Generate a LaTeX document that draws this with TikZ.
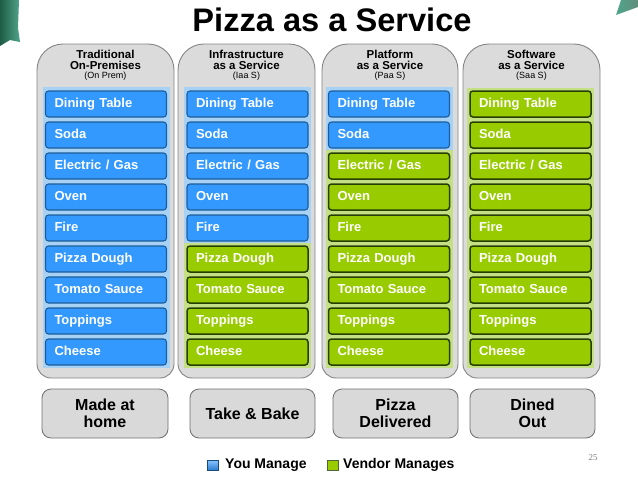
\documentclass[tikz,border=0pt]{standalone}
\usepackage{fontspec}
\setmainfont{Liberation Sans}
\newfontfamily\numfont{Liberation Serif}
\definecolor{colfill}{HTML}{DBDBDB}
\definecolor{colline}{HTML}{858585}
\definecolor{bluefill}{HTML}{3399FF}
\definecolor{blueline}{HTML}{1D5C99}
\definecolor{blueglow}{HTML}{A8D2F5}
\definecolor{greenfill}{HTML}{99CC00}
\definecolor{greenline}{HTML}{263F05}
\definecolor{greenglow}{HTML}{C5DF85}
\definecolor{botfill}{HTML}{D9D9D9}
\definecolor{botline}{HTML}{6F6F6F}
\definecolor{decodark}{HTML}{1F5C45}
\definecolor{decolight}{HTML}{4FA58A}
\begin{document}
\begin{tikzpicture}[x=1pt,y=1pt,
  colbg/.style={fill=colfill,draw=colline,line width=0.9pt},
  item/.style={rounded corners=3pt,minimum width=121pt,minimum height=26pt,
    text width=103pt,inner xsep=9pt,align=left,text=white,
    text height=9.5pt,text depth=2.8pt,
    font=\bfseries\fontsize{13}{15}\selectfont},
  you/.style={item,fill=bluefill,draw=blueline,line width=1.1pt},
  vend/.style={item,fill=greenfill,draw=greenline,line width=1.5pt},
  hdr/.style={font=\bfseries\fontsize{11.5}{13}\selectfont,inner sep=0pt},
  sub/.style={font=\fontsize{9}{10}\selectfont,inner sep=0pt},
  botbox/.style={fill=botfill,draw=botline,line width=0.8pt,rounded corners=9pt,
    minimum height=49pt,align=center,
    font=\bfseries\fontsize{16}{17.5}\selectfont},
  legtext/.style={anchor=west,inner sep=0pt,font=\bfseries\fontsize{14}{16}\selectfont}
]
\useasboundingbox (0,0) rectangle (638,-479);
\fill[white] (0,0) rectangle (638,-479);
% slide decorations
\shade[left color=decodark,right color=decolight] (0,0) -- (19,0) -- (18,-28) -- (20,-42) -- (10,-40) -- (0,-46) -- cycle;
\shade[left color=decolight,right color=decodark!70] (621,0) -- (638,0) -- (638,-7) -- (616,-15) -- cycle;
% title
\node[font=\bfseries\fontsize{32.6}{36}\selectfont,inner sep=0pt] (title) at (332,-20) {Pizza as a Service};
% columns
\foreach \L/\R in {37/174,178/315,322/458,463/600}{
  \path[colbg] (\L,-364) -- (\L,-70) arc[start angle=180,end angle=90,radius=26]
    -- ({\R-26},-44) arc[start angle=90,end angle=0,radius=26]
    -- (\R,-364) arc[start angle=0,end angle=-90,radius=14]
    -- ({\L+14},-378) arc[start angle=270,end angle=180,radius=14] -- cycle;
}
% headers
\foreach \k/\cx/\a/\b/\c in {1/105.5/Traditional/On-Premises/(On Prem),
  2/246.5/Infrastructure/as a Service/(Iaa S),
  3/390/Platform/as a Service/(Paa S),
  4/531.5/Software/as a Service/(Saa S)}{
  \node[hdr] (h\k a) at (\cx,-54) {\a};
  \node[hdr] (h\k b) at (\cx,-65.5) {\b};
  \node[sub] (h\k c) at (\cx,-76.5) {\c};
}
% items
\foreach \col/\cx/\nb in {1/106/9,2/247.5/5,3/389/2,4/530.5/0}{
  \ifnum\nb>0
    \fill[blueglow] ({\cx-63.5},-87) rectangle ({\cx+63.5},{-(104+31*(\nb-1)+16)});
  \fi
  \ifnum\nb<9
    \fill[greenglow] ({\cx-63.5},{-(104+31*\nb-16)}) rectangle ({\cx+63.5},{-(104+31*8+16)});
  \fi
  \foreach \t [count=\i] in {Dining Table,Soda,Electric / Gas,Oven,Fire,Pizza Dough,Tomato Sauce,Toppings,Cheese}{
    \pgfmathsetmacro\yy{-(104+31*(\i-1))}
    \ifnum\i>\nb
      \node[vend] (b\col-\i) at (\cx,\yy) {\t};
    \else
      \node[you] (b\col-\i) at (\cx,\yy) {\t};
    \fi
  }
}
% bottom boxes
\node[botbox,minimum width=126pt] (m1) at (105,-413.5) {Made at\\home};
\node[botbox,minimum width=125pt] (m2) at (252.5,-413.5) {Take \& Bake};
\node[botbox,minimum width=125pt] (m3) at (395.5,-413.5) {Pizza\\Delivered};
\node[botbox,minimum width=125pt] (m4) at (532.5,-413.5) {Dined\\Out};
% legend
\node[draw=blueline!80!black,line width=0.6pt,top color=bluefill!60!white,bottom color=bluefill!80!black,
  minimum width=11pt,minimum height=10pt,inner sep=0pt] (lb) at (213,-465.5) {};
\node[legtext] (lbt) at (225,-465) {You Manage};
\node[draw=greenline!80,line width=0.6pt,fill=greenfill,
  minimum width=11pt,minimum height=10pt,inner sep=0pt] (lg) at (332.5,-465.5) {};
\node[legtext] (lgt) at (343,-465) {Vendor Manages};
% page number
\node[text=gray,font=\numfont\fontsize{9}{10}\selectfont,inner sep=0pt] (pn) at (593,-458) {25};
\end{tikzpicture}
\end{document}
